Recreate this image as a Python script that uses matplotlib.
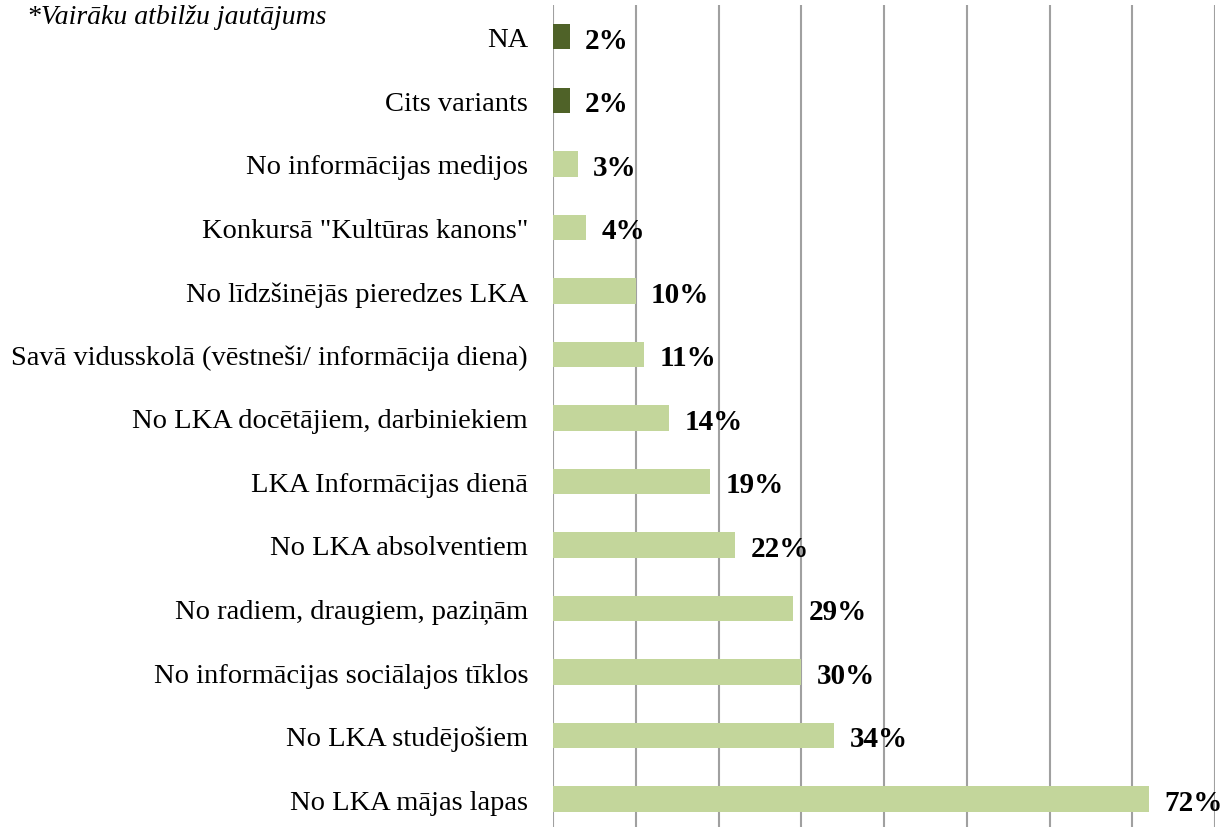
import matplotlib
matplotlib.use("Agg")
import matplotlib.pyplot as plt

categories = [
    "NA",
    "Cits variants",
    "No informācijas medijos",
    "Konkursā \"Kultūras kanons\"",
    "No līdzšinējās pieredzes LKA",
    "Savā vidusskolā (vēstneši/ informācija diena)",
    "No LKA docētājiem, darbiniekiem",
    "LKA Informācijas dienā",
    "No LKA absolventiem",
    "No radiem, draugiem, paziņām",
    "No informācijas sociālajos tīklos",
    "No LKA studējošiem",
    "No LKA mājas lapas",
]
values = [2, 2, 3, 4, 10, 11, 14, 19, 22, 29, 30, 34, 72]
bar_colors = ["#4F6228", "#4F6228"] + ["#C3D69B"] * 11
value_labels = [f"{v}%" for v in values]
note = "*Vairāku atbilžu jautājums"

plt.rcParams['font.family'] = ['Liberation Serif', 'DejaVu Serif']

fig = plt.figure(figsize=(12.24, 8.28), dpi=100)
ax = fig.add_axes([553/1224, 0, (1215-553)/1224, 1 - 6/828])

y = list(range(len(categories)))
ax.barh(y, values, height=0.4, color=bar_colors, zorder=3)
for yi, v, lab in zip(y, values, value_labels):
    ax.annotate(lab, (v, yi), xytext=(11, -2.5), textcoords="offset points",
                ha="left", va="center", fontsize=21, fontweight="bold", zorder=4,
                annotation_clip=False)

ax.set_xlim(0, 80)
ax.set_ylim(12.44, -0.5)
ax.set_xticks(range(0, 81, 10))
ax.set_xticklabels([])
ax.tick_params(axis="x", length=0)
ax.grid(axis="x", color="#A0A0A0", linewidth=1.5, zorder=0)
ax.set_yticks(y)
ax.set_yticklabels(categories, fontsize=20.5)
ax.tick_params(axis="y", length=0, pad=18)
for s in ax.spines.values():
    s.set_visible(False)

fig.text(27/1224, 1 - 17/828, note, fontsize=20, style="italic", ha="left", va="center")

fig.savefig("out.png", dpi=100)
